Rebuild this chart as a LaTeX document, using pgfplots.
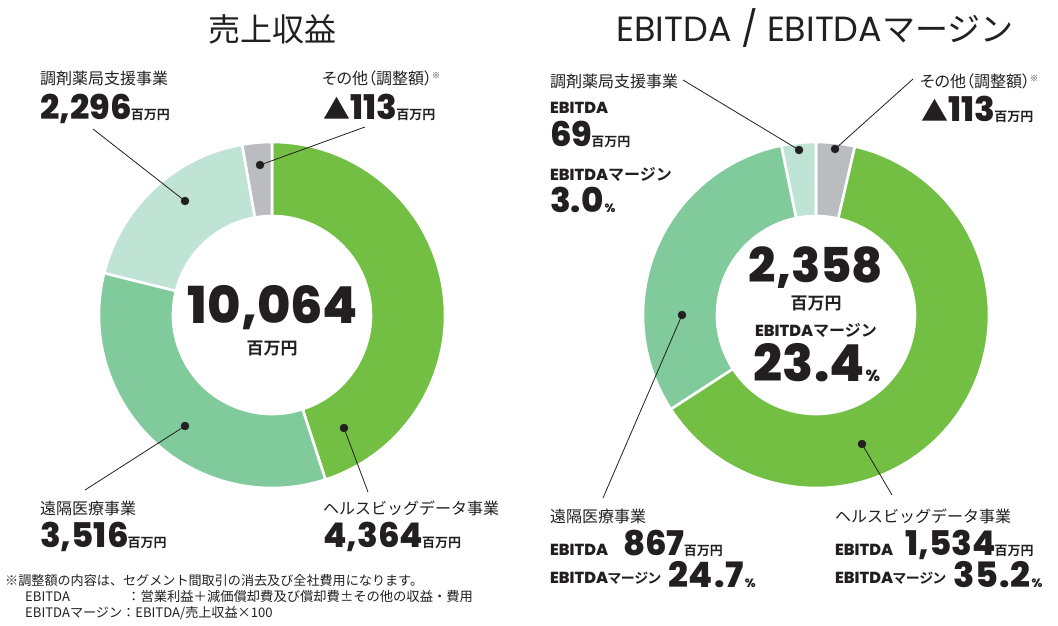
\documentclass[border=0pt]{standalone}
\usepackage{pgfplots}
\pgfplotsset{compat=1.18}
\usepackage{fontspec}
\setmainfont{Noto Sans CJK JP}
\newfontfamily\jpr{Noto Sans CJK JP}
\newfontfamily\jpp{Noto Sans CJK JP}[RawFeature=+palt]
\newfontfamily\jpb{Noto Sans CJK JP Bold}
\newfontfamily\jpbp{Noto Sans CJK JP Bold}[RawFeature=+palt]
\IfFontExistsTF{Poppins ExtraBold}{\newfontfamily\numb{Poppins ExtraBold}\newfontfamily\numw{Poppins ExtraBold}[LetterSpace=2.5]}{\newfontfamily\numb{Poppins Bold}\newfontfamily\numw{Poppins Bold}[LetterSpace=2.5]}
\newfontfamily\popr{Poppins}
\definecolor{cGreen}{RGB}{114,191,68}
\definecolor{cMed}{RGB}{128,202,156}
\definecolor{cLight}{RGB}{191,227,213}
\definecolor{cGray}{RGB}{187,188,191}
\definecolor{txt}{RGB}{35,31,32}
\tikzset{lab/.style={anchor=base west, inner sep=0pt, text=txt},
  cen/.style={anchor=base, inner sep=0pt, text=txt}}
\newcommand\fs[1]{\fontsize{#1}{#1}\selectfont}
\newcommand\numu[3]{{\numb\fs{#1}#2}\hspace{-1pt}{\jpb\fs{#3}百万円}}
\newcommand\nodp[1]{\raisebox{0pt}[\height][0pt]{#1}}
% annular sector: centre x, centre y, start angle, end angle, colour
\newcommand\sector[5]{\fill[#5, draw=white, line width=2.6pt] (axis cs:#1,#2) ++(#3:173pt) arc[start angle=#3, end angle=#4, radius=173pt] -- ++(#4:-74pt) arc[start angle=#4, end angle=#3, radius=99pt] -- cycle;}
\begin{document}
\begin{tikzpicture}
\useasboundingbox (0,0) rectangle (1058pt,625pt);
\begin{axis}[at={(0,0)}, anchor=south west, width=1058pt, height=625pt, scale only axis,
  xmin=0, xmax=1058, ymin=0, ymax=625, y dir=reverse, hide axis, clip=false]
% ---- Revenue donut (values 4364, 3516, 2296, -113; angles as drawn)
\sector{272}{315}{-72}{90}{cGreen}
\sector{272}{315}{90}{100}{cGray}
\sector{272}{315}{100}{166}{cLight}
\sector{272}{315}{166}{288}{cMed}
% ---- EBITDA donut (values 1534, 867, 69, -113; angles as drawn)
\sector{816}{315}{77}{90}{cGray}
\sector{816}{315}{90}{101.6}{cLight}
\sector{816}{315}{101.6}{213}{cMed}
\sector{816}{315}{213}{437}{cGreen}
% leader lines
\addplot[txt, line width=0.8pt] coordinates {(93,129) (185,201)};
\addplot[txt, line width=0.8pt] coordinates {(365,127) (260,165)};
\addplot[txt, line width=0.8pt] coordinates {(85,490) (185,426)};
\addplot[txt, line width=0.8pt] coordinates {(368,492) (344,428)};
\addplot[txt, line width=0.8pt] coordinates {(683,80) (799,150)};
\addplot[txt, line width=0.8pt] coordinates {(913,79) (835,149)};
\addplot[txt, line width=0.8pt] coordinates {(603,498) (682,315)};
\addplot[txt, line width=0.8pt] coordinates {(892,495) (862,444)};
\addplot[only marks, mark=*, mark size=4pt, txt] coordinates {(185,201) (260,165) (185,426) (344,428) (799,150) (835,149) (682,315) (862,444)};
% titles
\node[cen] at (axis cs:272,41) {\jpr\fs{32}売上収益};
\node[cen] at (axis cs:815,41) {{\popr\fs{35}EBITDA / EBITDA}{\jpr\fs{33}マージン}};
% left labels
\node[lab] at (axis cs:40,84) {\jpr\fs{16}調剤薬局支援事業};
\node[lab] at (axis cs:40,119) {\numu{34}{2,296}{13}};
\node[lab] at (axis cs:322,84) {\jpp\fs{16}その他（調整額）\raisebox{6pt}{\fs{8}※}};
\node[lab] at (axis cs:323,119) {{\jpr\fs{27}▲}\numu{34}{113}{13}};
\node[lab] at (axis cs:40,514) {\jpr\fs{16}遠隔医療事業};
\node[lab] at (axis cs:40,547) {\numu{34}{3,516}{13}};
\node[lab] at (axis cs:323,514) {\jpr\fs{16}ヘルスビッグデータ事業};
\node[lab] at (axis cs:323,547) {\numu{34}{4,364}{13}};
\node[cen] at (axis cs:273,323) {\nodp{\numb\fs{51}10,064}};
\node[cen] at (axis cs:272,354) {\jpb\fs{17}百万円};
% right labels
\node[lab] at (axis cs:550,87) {\jpr\fs{16}調剤薬局支援事業};
\node[lab] at (axis cs:550,113) {\numb\fs{16}EBITDA};
\node[lab] at (axis cs:550,146) {\numu{34}{69}{13}};
\node[lab] at (axis cs:550,180) {{\numb\fs{16}EBITDA}{\jpb\fs{16}マージン}};
\node[lab] at (axis cs:550,212) {{\numb\fs{34}3.0}\hspace{1pt}{\numb\fs{12}\%}};
\node[lab] at (axis cs:920,87) {\jpp\fs{16}その他（調整額）\raisebox{6pt}{\fs{8}※}};
\node[lab] at (axis cs:921,121) {{\jpr\fs{27}▲}\numu{34}{113}{13}};
\node[lab] at (axis cs:550,522) {\jpr\fs{16}遠隔医療事業};
\node[lab] at (axis cs:550,555) {\numb\fs{16}EBITDA};
\node[lab] at (axis cs:623,555) {\numu{34}{867}{13}};
\node[lab] at (axis cs:550,583) {{\numb\fs{16}EBITDA}{\jpbp\fs{14}マージン}};
\node[lab] at (axis cs:668,587) {{\numw\fs{35}24.7}\hspace{1pt}{\numb\fs{12}\%}};
\node[lab] at (axis cs:835,522) {\jpr\fs{16}ヘルスビッグデータ事業};
\node[lab] at (axis cs:835,555) {\numb\fs{16}EBITDA};
\node[lab] at (axis cs:905,555) {\numu{34}{1,534}{13}};
\node[lab] at (axis cs:835,583) {{\numb\fs{16}EBITDA}{\jpbp\fs{14}マージン}};
\node[lab] at (axis cs:953,587) {{\numw\fs{35}35.2}\hspace{1pt}{\numb\fs{12}\%}};
\node[cen] at (axis cs:816,282) {\nodp{\numb\fs{48}2,358}};
\node[cen] at (axis cs:816,309) {\jpb\fs{17}百万円};
\node[cen] at (axis cs:816,336) {{\numb\fs{16}EBITDA}{\jpb\fs{16}マージン}};
\node[cen] at (axis cs:817,381) {{\numb\fs{51}23.4}\hspace{1pt}{\numb\fs{16}\%}};
% footnote
\node[lab] at (axis cs:5,585) {\jpr\fs{13.1}※調整額の内容は、セグメント間取引の消去及び全社費用になります。};
\node[lab] at (axis cs:25,601) {\jpr\fs{13.1}EBITDA};
\node[lab] at (axis cs:127,601) {\jpr\fs{13.3}：営業利益＋減価償却費及び償却費±その他の収益・費用};
\node[lab] at (axis cs:25,617) {\jpr\fs{13.1}EBITDAマージン：EBITDA/売上収益×100};
\end{axis}
\end{tikzpicture}
\end{document}
